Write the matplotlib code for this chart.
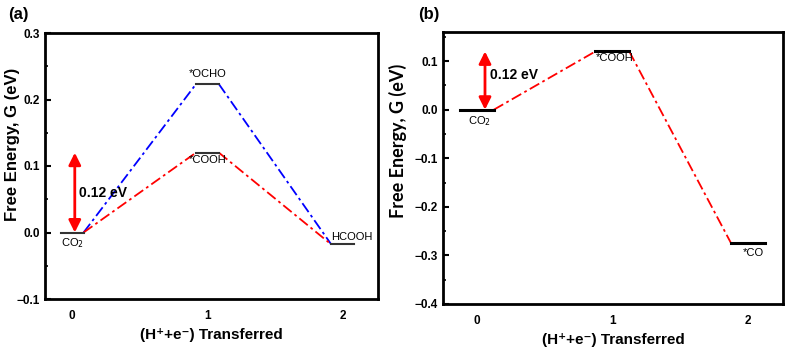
import matplotlib.pyplot as plt
from matplotlib.ticker import MultipleLocator

plt.rcParams['font.family'] = ['Liberation Sans', 'DejaVu Sans']

# dados
passos = [0, 1, 2]
energia_ocho = [0.0, 0.223, -0.018]
energia_cooh_a = [0.0, 0.12, -0.018]
nomes_a = ['CO$_2$', '*OCHO', 'HCOOH']

energia_cooh_b = [0.0, 0.12, -0.274]
nomes_b = ['CO$_2$', '*COOH', '*CO']

barreira = 0.12


def caminho(ax, x, y, meia, cor):
    # liga o fim de um nivel ao inicio do seguinte
    for i in range(len(x) - 1):
        ax.plot([x[i] + meia, x[i + 1] - meia], [y[i], y[i + 1]],
                color=cor, lw=1.3, dashes=(6, 2, 1.5, 2), zorder=2)


def niveis(ax, x, y, meia, cor, lw):
    for xi, yi in zip(x, y):
        ax.plot([xi - meia, xi + meia], [yi, yi], color=cor, lw=lw, zorder=3)


def estilo(ax, xlim, ylim, maior):
    ax.set_xlim(*xlim)
    ax.set_ylim(*ylim)
    ax.set_xticks(passos)
    ax.set_xticklabels(['0', '1', '2'], fontweight='bold', fontsize=8.5)
    ax.tick_params(axis='x', length=0, pad=8)
    ax.yaxis.set_major_locator(MultipleLocator(maior))
    ax.yaxis.set_minor_locator(MultipleLocator(maior / 2))
    ax.tick_params(axis='y', which='major', direction='in', length=4, width=1.5, labelsize=8.5)
    ax.tick_params(axis='y', which='minor', direction='in', length=2.5, width=1.2)
    for t in ax.get_yticklabels():
        t.set_fontweight('bold')
    for s in ax.spines.values():
        s.set_linewidth(2)
    ax.set_xlabel('(H⁺+e⁻) Transferred', fontsize=11, fontweight='bold')


fig = plt.figure(figsize=(7.93, 3.56), dpi=100)
ax1 = fig.add_axes([45 / 793, 1 - 299 / 356, 333 / 793, 266 / 356])
ax2 = fig.add_axes([443 / 793, 1 - 304 / 356, 340 / 793, 272 / 356])

seta = dict(arrowstyle='<|-|>', color='red', lw=2, mutation_scale=18, shrinkA=0, shrinkB=0)

# painel (a)
caminho(ax1, passos, energia_ocho, 0.085, 'blue')
caminho(ax1, passos, energia_cooh_a, 0.085, 'red')
niveis(ax1, passos, energia_ocho, 0.085, '#333333', 1.5)
ax1.plot([0.915, 1.085], [energia_cooh_a[1]] * 2, color='#333333', lw=1.5, zorder=3)
ax1.annotate('', xy=(0.02, 0), xytext=(0.02, barreira), arrowprops=seta)
ax1.text(0.05, 0.06, '0.12 eV', fontsize=10, fontweight='bold', va='center')
ax1.text(0.0, -0.005, nomes_a[0], fontsize=8, ha='center', va='top')
ax1.text(1.0, energia_ocho[1] + 0.008, nomes_a[1], fontsize=8, ha='center', va='bottom')
ax1.text(1.0, energia_cooh_a[1] - 0.003, '*COOH', fontsize=8, ha='center', va='top')
ax1.text(2.07, energia_ocho[2] + 0.004, nomes_a[2], fontsize=8, ha='center', va='bottom')
estilo(ax1, (-0.2, 2.26), (-0.1, 0.3), 0.1)
ax1.set_ylabel('Free Energy, G (eV)', fontsize=12, fontweight='bold')
ax1.yaxis.set_label_coords(-0.075, 0.583)

# painel (b)
caminho(ax2, passos, energia_cooh_b, 0.125, 'red')
niveis(ax2, passos, energia_cooh_b, 0.125, 'black', 2.2)
ax2.annotate('', xy=(0.06, 0), xytext=(0.06, barreira), arrowprops=seta)
ax2.text(0.1, 0.072, '0.12 eV', fontsize=10, fontweight='bold', va='center')
ax2.text(0.02, -0.01, nomes_b[0], fontsize=8, ha='center', va='top')
ax2.text(1.02, energia_cooh_b[1] - 0.004, nomes_b[1], fontsize=8, ha='center', va='top')
ax2.text(2.04, energia_cooh_b[2] - 0.01, nomes_b[2], fontsize=8, ha='center', va='top')
estilo(ax2, (-0.25, 2.26), (-0.4, 0.16), 0.1)
ax2.set_ylabel('Free Energy, G (eV)', fontsize=13, fontweight='bold', family=['Lato', 'DejaVu Sans'])
ax2.yaxis.set_label_coords(-0.106, 0.60)

fig.text(8 / 793, 1 - 15 / 356, '(a)', fontsize=12, fontweight='bold', va='center')
fig.text(418 / 793, 1 - 15 / 356, '(b)', fontsize=12, fontweight='bold', va='center')

fig.savefig('out.png', dpi=100)
